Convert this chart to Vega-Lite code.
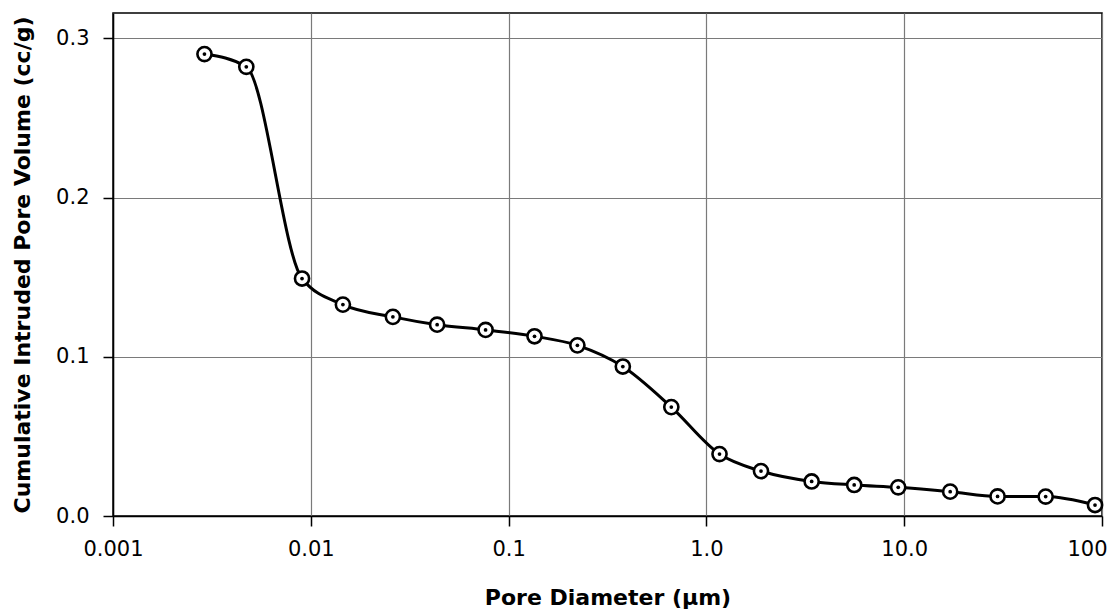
{
  "$schema": "https://vega.github.io/schema/vega-lite/v6.json",
  "autosize": {"type": "none"},
  "padding": {"left": 113, "top": 13, "right": 9, "bottom": 96},
  "width": 989,
  "height": 503,
  "background": "white",
  "config": {
    "view": {"stroke": "#000000", "strokeWidth": 1.5},
    "font": "DejaVu Sans"
  },
  "data": {
    "values": [
      {"d": 0.00290, "v": 0.2902},
      {"d": 0.00472, "v": 0.2822},
      {"d": 0.00903, "v": 0.1492},
      {"d": 0.01453, "v": 0.1328},
      {"d": 0.0260, "v": 0.1251},
      {"d": 0.04352, "v": 0.1202},
      {"d": 0.0765, "v": 0.1169},
      {"d": 0.1352, "v": 0.1129},
      {"d": 0.2227, "v": 0.1072},
      {"d": 0.378, "v": 0.0939},
      {"d": 0.6647, "v": 0.0684},
      {"d": 1.165, "v": 0.0389},
      {"d": 1.888, "v": 0.0282},
      {"d": 3.405, "v": 0.0217},
      {"d": 5.588, "v": 0.0195},
      {"d": 9.326, "v": 0.0180},
      {"d": 17.08, "v": 0.0153},
      {"d": 29.65, "v": 0.0123},
      {"d": 51.9, "v": 0.0122},
      {"d": 92.2, "v": 0.0069}
    ]
  },
  "encoding": {
    "x": {
      "field": "d",
      "type": "quantitative",
      "scale": {"type": "log", "domain": [0.001, 100], "nice": false},
      "axis": {
        "title": "Pore Diameter (µm)",
        "values": [0.001, 0.01, 0.1, 1, 10, 100],
        "labelExpr": "datum.value < 0.005 ? '0.001' : datum.value < 0.05 ? '0.01' : datum.value < 0.5 ? '0.1' : datum.value < 5 ? '1.0' : datum.value < 50 ? '10.0' : '100'",
        "labelFlush": false,
        "labelOverlap": false,
        "labelAlign": {"condition": {"test": "datum.value >= 50", "value": "right"}, "value": "center"},
        "labelOffset": {"condition": {"test": "datum.value >= 50", "value": 5}, "value": 0},
        "labelFont": "DejaVu Sans",
        "labelFontSize": 21,
        "labelColor": "#000000",
        "labelPadding": 12,
        "tickSize": 10,
        "tickColor": "#000000",
        "tickWidth": 1.5,
        "domainColor": "#000000",
        "domainWidth": 1.5,
        "grid": true,
        "gridColor": "#7a7a7a",
        "gridWidth": 1.2,
        "titleFont": "DejaVu Sans",
        "titleFontSize": 22,
        "titleFontWeight": "bold",
        "titleColor": "#000000",
        "titlePadding": 28
      }
    },
    "y": {
      "field": "v",
      "type": "quantitative",
      "scale": {"domain": [0, 0.316], "nice": false, "zero": true},
      "axis": {
        "title": "Cumulative Intruded Pore Volume (cc/g)",
        "values": [0, 0.1, 0.2, 0.3],
        "format": ".1f",
        "labelFont": "DejaVu Sans",
        "labelFontSize": 21,
        "labelColor": "#000000",
        "labelPadding": 14,
        "tickSize": 10,
        "tickColor": "#000000",
        "tickWidth": 1.5,
        "domainColor": "#000000",
        "domainWidth": 1.5,
        "grid": true,
        "gridColor": "#7a7a7a",
        "gridWidth": 1.2,
        "titleFont": "DejaVu Sans",
        "titleFontSize": 22,
        "titleFontWeight": "bold",
        "titleColor": "#000000",
        "titlePadding": 21
      }
    }
  },
  "layer": [
    {
      "mark": {"type": "line", "interpolate": "monotone", "color": "#000000", "strokeWidth": 3}
    },
    {
      "mark": {"type": "point", "shape": "circle", "filled": true, "fill": "#ffffff", "stroke": "#000000", "strokeWidth": 2.6, "size": 200, "opacity": 1}
    },
    {
      "mark": {"type": "point", "shape": "circle", "filled": true, "fill": "#000000", "strokeWidth": 0, "size": 14, "opacity": 1}
    }
  ]
}
